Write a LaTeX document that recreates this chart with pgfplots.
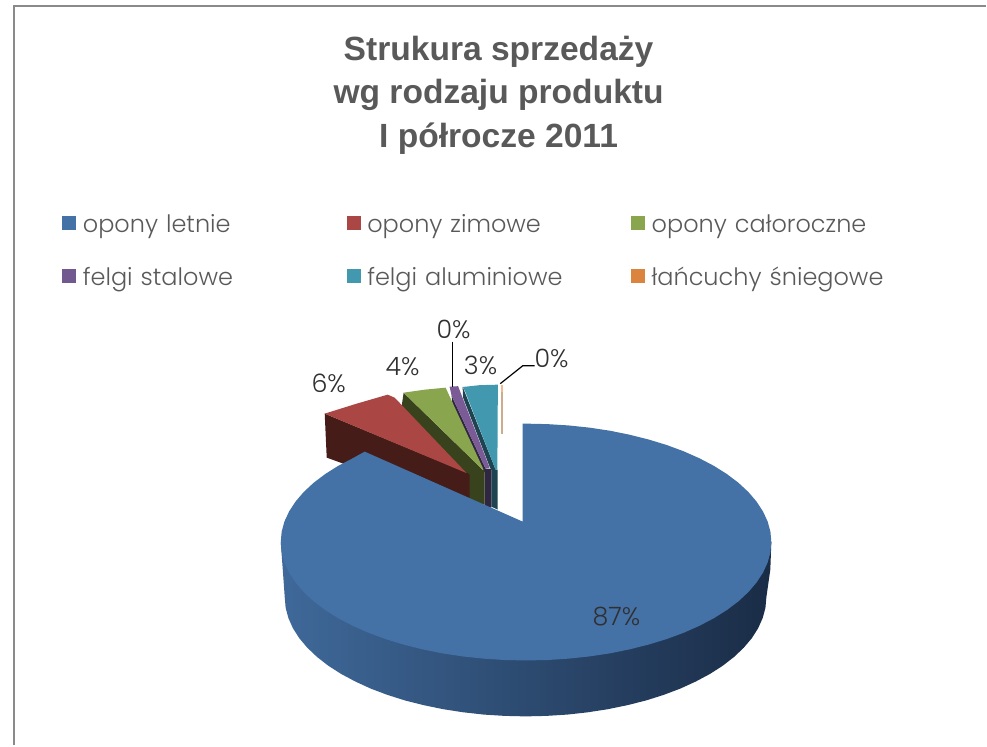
\documentclass[border=0pt]{standalone}
\usepackage{fontspec}
\setmainfont{Liberation Sans}
\newfontfamily\gothic{Poppins Light}
\usepackage{pgfplots}
\pgfplotsset{compat=1.18}
\definecolor{tt}{HTML}{595959}
\definecolor{lb}{HTML}{303030}
\definecolor{frame}{HTML}{8A8A8A}
\definecolor{cblue}{HTML}{4471A6}
\definecolor{cred}{HTML}{AA4643}
\definecolor{cgreen}{HTML}{89A54E}
\definecolor{cpurple}{HTML}{71588F}
\definecolor{cteal}{HTML}{4198AF}
\definecolor{corange}{HTML}{DB843D}
\definecolor{rimL}{RGB}{63,105,154}
\definecolor{rimM}{RGB}{42,70,104}
\definecolor{rimR}{RGB}{26,44,70}
\newcommand\poly[2]{\addplot[forget plot,fill=#1,draw=none] coordinates {#2};}
\begin{document}
\begin{tikzpicture}
\begin{axis}[
  scale only axis, width=740.25pt, height=559.5pt,
  at={(0,0)}, anchor=south west,
  xmin=0, xmax=987, ymin=0, ymax=746, y dir=reverse,
  hide axis, clip=false,
  legend columns=3,
  legend cell align=left,
  legend image code/.code={\fill[#1,draw=none] (0pt,-1.5pt) rectangle (10.5pt,9pt);},
  legend style={draw=none,fill=none,at={(axis cs:62,216)},anchor=north west,inner sep=0pt,
    font=\gothic\fontsize{18}{20}\selectfont,text=tt,
    nodes={inner sep=0pt,text width=198pt,text height=10pt,text depth=3pt},
    /tikz/every odd column/.append style={column sep=5pt},
    /tikz/row sep=24.25pt},
  title={Strukura sprzedaży\\wg rodzaju produktu\\I półrocze 2011},
  title style={at={(axis cs:499,103)},anchor=center,align=center,text=tt,
    font=\bfseries\fontsize{25.2}{32.6}\selectfont},
]
\addlegendimage{fill=cblue}
\addlegendimage{fill=cred}
\addlegendimage{fill=cgreen}
\addlegendimage{fill=cpurple}
\addlegendimage{fill=cteal}
\addlegendimage{fill=corange}
\addlegendentry{opony letnie}
\addlegendentry{opony zimowe}
\addlegendentry{opony całoroczne}
\addlegendentry{felgi stalowe}
\addlegendentry{felgi aluminiowe}
\addlegendentry{łańcuchy śniegowe}

% frame
\addplot[forget plot,draw=frame,line width=1.3pt] coordinates {(14,746)(14,6)(987,6)};
\path (axis cs:0,0) rectangle (axis cs:987,746);

% orange slice (0%)
\poly{{rgb,255:red,205;green,172;blue,142}}{(501,386)(503.6,386)(503.6,434)(501,434)}
\poly{{rgb,255:red,240;green,185;blue,142}}{(501,385)(503.6,385)(503.6,392)(501,392)}
% teal slice (3%)
\poly{{rgb,255:red,29;green,68;blue,80}}{(463,387)(496,470)(498,470)(498,510)(491.7,507)(491.7,470)(490,467)(463.5,398)}
\poly{cteal}{(463.3,387.3)(480,385.5)(498.3,385)(497.8,470)(496,470)(466,393)}
% purple slice (0%)
\poly{{rgb,255:red,47;green,38;blue,65}}{(452,396)(486,469)(491.7,469)(491.7,508)(485,508)(485,473)(453,406)}
\poly{{rgb,255:red,123;green,91;blue,150}}{(450,387)(458.5,386.5)(490,468)(486,469)(452,396)}
% green slice (4%)
\poly{{rgb,255:red,56;green,66;blue,28}}{(404,393)(408,397)(483,470)(485,470)(485,505)(465,505)(400,420)}
\poly{cgreen}{(404,393)(425,390)(446,388)(484,470)(483,470)(408,397)}
% red slice (6%)
\poly{{rgb,255:red,69;green,28;blue,24}}{(325,414)(467,473)(470,475)(470,505)(360,470)(327,458)}
\poly{cred}{(325,414)(357,404)(388,395)(395,398)(467,473.5)}

% blue slice (87%): rim
\addplot[forget plot,draw=none,left color=rimL,middle color=rimM,right color=rimR] coordinates {(281,542.5)(526,600)(772,542.5)(771,570)(767,598)(766.1,608.4)(763.3,618.7)(758.8,628.8)(752.5,638.7)(744.4,648.3)(734.7,657.5)(723.4,666.3)(710.6,674.5)(696.4,682.1)(680.9,689.2)(664.2,695.5)(646.5,701.1)(627.8,705.8)(608.4,709.8)(588.4,712.9)(567.8,715.2)(547,716.5)(526,717)(505,716.5)(484.2,715.2)(463.6,712.9)(443.6,709.8)(424.2,705.8)(405.5,701.1)(387.8,695.5)(371.1,689.2)(355.6,682.1)(341.4,674.5)(328.6,666.3)(317.3,657.5)(307.6,648.3)(299.5,638.7)(293.2,628.8)(288.7,618.7)(285.9,608.4)(285,598)(283,570)};
% blue slice: top face
\poly{cblue}{(523,522)(523,424)(526.5,424)(547.9,424.5)(569.1,425.8)(590,428)(610.5,431.1)(630.2,435.1)(649.3,439.9)(667.3,445.4)(684.3,451.7)(700.1,458.7)(714.6,466.3)(727.6,474.5)(739.1,483.2)(749,492.4)(757.2,502)(763.6,511.8)(768.3,521.9)(771.1,532.2)(772,542.5)(771.1,552.8)(768.3,563.1)(763.6,573.2)(757.2,583)(749,592.6)(739.1,601.8)(727.6,610.5)(714.6,618.7)(700.1,626.3)(684.3,633.3)(667.3,639.6)(649.3,645.1)(630.2,649.9)(610.5,653.9)(590,657)(569.1,659.2)(547.9,660.6)(526.5,661)(505.1,660.6)(483.9,659.2)(463,657)(442.5,653.9)(422.8,649.9)(403.7,645.1)(385.7,639.6)(368.7,633.3)(352.9,626.3)(338.4,618.7)(325.4,610.5)(313.9,601.8)(304,592.6)(295.8,583)(289.4,573.2)(284.7,563.1)(281.9,552.8)(281,542.5)(281.9,532.2)(284.7,521.9)(289.4,511.8)(295.8,502)(304,492.4)(313.9,483.2)(325.4,474.5)(338.4,466.3)(352.9,458.7)(365,452)}

% leader lines
\addplot[forget plot,black,line width=1.1pt] coordinates {(452.7,342)(452.7,387)};
\addplot[forget plot,black,line width=.9pt] coordinates {(500.7,384)(523.3,366)(535,366)};

% data labels
\node[text=lb,font=\gothic\fontsize{19}{20}\selectfont] at (axis cs:617,617) {87\%};
\node[text=lb,font=\gothic\fontsize{19}{20}\selectfont] at (axis cs:329,384) {6\%};
\node[text=lb,font=\gothic\fontsize{19}{20}\selectfont] at (axis cs:403,367) {4\%};
\node[text=lb,font=\gothic\fontsize{19}{20}\selectfont] at (axis cs:454,330) {0\%};
\node[text=lb,font=\gothic\fontsize{19}{20}\selectfont] at (axis cs:481,366) {3\%};
\node[text=lb,font=\gothic\fontsize{19}{20}\selectfont] at (axis cs:552,359) {0\%};
\end{axis}
\end{tikzpicture}
\end{document}
